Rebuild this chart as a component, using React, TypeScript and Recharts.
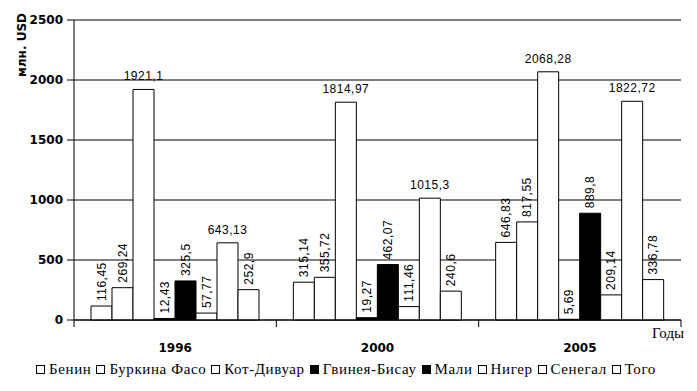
import React from 'react';
import { BarChart, Bar, XAxis, YAxis, CartesianGrid, Legend, LabelList } from 'recharts';

// values, mln USD
const years = ['1996', '2000', '2005'];
const benin = [116.45, 315.14, 646.83];
const burkina = [269.24, 355.72, 817.55];
const kotDivuar = [1921.1, 1814.97, 2068.28];
const guinea = [12.43, 19.27, 5.69];
const mali = [325.5, 462.07, 889.8];
const niger = [57.77, 111.46, 209.14];
const senegal = [643.13, 1015.3, 1822.72];
const togo = [252.9, 240.6, 336.78];
const yTicks = [0, 500, 1000, 1500, 2000, 2500];

const series = [
  { key: 'benin', name: 'Бенин', values: benin, fill: '#fff', flat: false },
  { key: 'burkina', name: 'Буркина Фасо', values: burkina, fill: '#fff', flat: false },
  { key: 'kot', name: 'Кот-Дивуар', values: kotDivuar, fill: '#fff', flat: true },
  { key: 'guinea', name: 'Гвинея-Бисау', values: guinea, fill: '#000', flat: false },
  { key: 'mali', name: 'Мали', values: mali, fill: '#000', flat: false },
  { key: 'niger', name: 'Нигер', values: niger, fill: '#fff', flat: false },
  { key: 'senegal', name: 'Сенегал', values: senegal, fill: '#fff', flat: true },
  { key: 'togo', name: 'Того', values: togo, fill: '#fff', flat: false },
];

const data = years.map((y, i) => {
  const row: any = { year: y };
  series.forEach((s) => (row[s.key] = s.values[i]));
  return row;
});

const W = 697;
const H = 391;
const M = { top: 20, right: 16, left: 0, bottom: 11 };
const Y_W = 74;
const BAND = (W - Y_W - M.right - M.left) / years.length;

const serif = '"Liberation Serif", "Times New Roman", "DejaVu Serif", serif';
const labelFont = { fontFamily: '"Liberation Sans", Arial, sans-serif', fontSize: 12, letterSpacing: 0.5 };

const makeLabel = (flat: boolean) => (p: any) => {
  const x = Number(p.x), y = Number(p.y), w = Number(p.width);
  const cx = x + w / 2;
  const txt = String(p.value).replace('.', ',');
  if (flat) {
    return (
      <text x={cx} y={y - 9} textAnchor="middle" fill="#000" {...labelFont}>
        {txt}
      </text>
    );
  }
  const ty = y - 5;
  return (
    <text x={cx} y={ty} dy="0.36em" transform={`rotate(-90 ${cx} ${ty})`} textAnchor="start" fill="#000" {...labelFont}>
      {txt}
    </text>
  );
};

const YearTick = (props: any) => {
  const { x, y, payload, index } = props;
  const left = x - BAND / 2;
  const right = x + BAND / 2;
  const last = index === years.length - 1;
  return (
    <g>
      <line x1={left} x2={left} y1={y} y2={y + 7} stroke="#000" />
      {last && <line x1={right} x2={right} y1={y} y2={y + 7} stroke="#000" />}
      <text x={x} y={y + 32} textAnchor="middle" fill="#000" fontFamily="DejaVu Sans" fontWeight="bold" fontSize={12}>
        {payload.value}
      </text>
      {last && (
        <text x={right - 29} y={y + 18} fill="#000" fontFamily={serif} fontSize={15}>
          Годы
        </text>
      )}
    </g>
  );
};

const YLabel = (props: any) => {
  const vb = props.viewBox || { x: 0, y: M.top };
  const cx = vb.x + 22;
  const cy = vb.y + 25;
  return (
    <text x={cx} y={cy} dy="0.36em" transform={`rotate(-90 ${cx} ${cy})`} textAnchor="middle" fill="#000" fontFamily="DejaVu Sans" fontWeight="bold" fontSize={12}>
      млн. USD
    </text>
  );
};

// legend in the series order (recharts sorts its payload by name)
const LegendBox = () => (
  <div
    style={{
      display: 'flex',
      justifyContent: 'center',
      alignItems: 'center',
      height: 22,
      fontFamily: serif,
      fontSize: 15,
      letterSpacing: 0.6,
      color: '#000',
      whiteSpace: 'nowrap',
    }}
  >
    {series.map((s) => (
      <span key={s.key} style={{ display: 'inline-flex', alignItems: 'center', marginRight: 5 }}>
        <svg width={9} height={9} style={{ marginRight: 4 }}>
          <rect x={0.5} y={0.5} width={8} height={8} fill={s.fill} stroke="#000" />
        </svg>
        {s.name}
      </span>
    ))}
  </div>
);

export default function App() {
  return (
    <div style={{ position: 'absolute', left: 0, top: 0, background: '#fff' }}>
      <BarChart width={W} height={H} data={data} margin={M} barCategoryGap={17} barGap={0}>
        <CartesianGrid vertical={false} stroke="#000" strokeOpacity={1} />
        <XAxis
          dataKey="year"
          height={38}
          axisLine={{ stroke: '#000' }}
          tickLine={false}
          tickSize={0}
          tickMargin={0}
          tick={<YearTick />}
          interval={0}
        />
        <YAxis
          width={Y_W}
          domain={[0, 2500]}
          ticks={yTicks}
          interval={0}
          axisLine={{ stroke: '#000' }}
          tickLine={{ stroke: '#000' }}
          tickSize={7}
          tickMargin={4}
          tick={{ fill: '#000', fontSize: 12, fontWeight: 'bold', fontFamily: 'DejaVu Sans' }}
          label={<YLabel />}
        />
        <Legend verticalAlign="bottom" content={<LegendBox />} wrapperStyle={{ left: 0, width: W }} />
        {series.map((s) => (
          <Bar key={s.key} dataKey={s.key} name={s.name} fill={s.fill} stroke="#000" strokeWidth={1} isAnimationActive={false}>
            <LabelList dataKey={s.key} content={makeLabel(s.flat)} />
          </Bar>
        ))}
      </BarChart>
    </div>
  );
}
